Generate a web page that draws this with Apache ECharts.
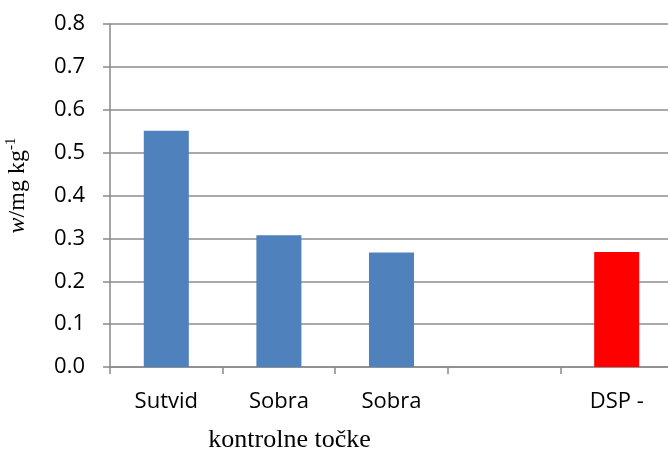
<!DOCTYPE html>
<html><head><meta charset="utf-8">
<script src="https://cdn.jsdelivr.net/npm/echarts@6/dist/echarts.min.js"></script>
<style>html,body{margin:0;padding:0;background:#fff}#c{width:668px;height:461px}</style>
</head><body><div id="c"></div>
<script>
var categories = ['Sutvid', 'Sobra', 'Sobra', '', 'DSP -'];
var values = [0.551, 0.307, 0.267, null, 0.268];
var barColors = ['#4F81BD', '#4F81BD', '#4F81BD', '#4F81BD', '#FF0000'];
var yTicks = [0, 0.1, 0.2, 0.3, 0.4, 0.5, 0.6, 0.7, 0.8];

var chart = echarts.init(document.getElementById('c'));
chart.setOption({
  animation: false,
  grid: {left: 110, right: -5, top: 24, bottom: 94, containLabel: false, outerBoundsMode: 'none'},
  xAxis: {
    type: 'category',
    data: categories,
    axisLine: {lineStyle: {color: '#898989', width: 1.5}},
    axisTick: {show: true, length: 7, lineStyle: {color: '#898989', width: 1.5}},
    axisLabel: {color: '#000', fontFamily: 'Open Sans', fontSize: 22, margin: 24},
    name: 'kontrolne točke',
    nameLocation: 'middle',
    nameGap: 60,
    nameTextStyle: {fontFamily: 'Liberation Serif', fontSize: 26, color: '#000', padding: [0, 204, 0, 0]}
  },
  yAxis: {
    type: 'value',
    min: 0, max: 0.8, interval: 0.1,
    axisLine: {show: true, lineStyle: {color: '#898989', width: 1.5}},
    axisTick: {show: true, length: 7, lineStyle: {color: '#898989', width: 1.5}},
    axisLabel: {color: '#000', fontFamily: 'Open Sans', fontSize: 22, margin: 25,
      formatter: function (v) { return v.toFixed(1); }},
    splitLine: {lineStyle: {color: '#8c8c8c', width: 1.5}},
    name: '{i|w}/mg kg{s|-1}',
    nameLocation: 'middle',
    nameGap: 79,
    nameRotate: 90,
    nameTextStyle: {
      fontFamily: 'Liberation Serif', fontSize: 24, color: '#000',
      padding: [0, 0, 0, 20],
      rich: {
        i: {fontFamily: 'Liberation Serif', fontSize: 24, fontStyle: 'italic', color: '#000'},
        s: {fontFamily: 'Liberation Serif', fontSize: 15, color: '#000', verticalAlign: 'top', padding: [0, 0, 12, 0]}
      }
    }
  },
  series: [{
    type: 'bar',
    barWidth: '40%',
    data: values.map(function (v, i) { return {value: v, itemStyle: {color: barColors[i]}}; })
  }]
});
</script></body></html>
